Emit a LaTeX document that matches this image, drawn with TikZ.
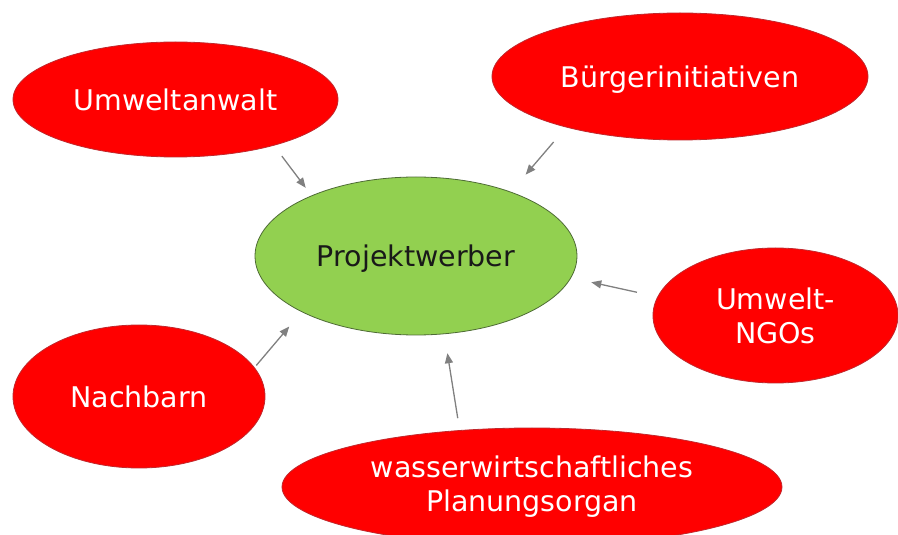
\documentclass[tikz,border=0pt]{standalone}
\usepackage{fontspec}
\setmainfont{DejaVu Sans}
\usetikzlibrary{shapes.geometric,positioning,arrows.meta}
\definecolor{partyred}{HTML}{FF0000}
\definecolor{partyline}{HTML}{C0282D}
\definecolor{projgreen}{HTML}{92D050}
\definecolor{projline}{HTML}{4E6B35}
\definecolor{arrowgray}{HTML}{808080}

\begin{document}
\begin{tikzpicture}[on grid,
    party/.style={ellipse, fill=partyred, draw=partyline, line width=0.8pt,
        inner sep=0pt, outer sep=0pt, text=white, align=center,
        font=\fontsize{28.5}{34}\selectfont},
    project/.style={party, fill=projgreen, draw=projline, text={black!90}},
    flat/.style={text depth=0pt},
    arr/.style={draw=arrowgray, line width=1.3pt, -{Triangle[length=10pt,width=8pt]}}]
                \useasboundingbox (-416pt,256pt) rectangle (482pt,-279pt);
                \node[project,flat,minimum width=322pt,minimum height=158pt] (Projekt) {Projektwerber};
                \node[party,minimum width=325pt,minimum height=115pt] (Anwalt) [above left=156.5pt and 240.5pt of Projekt] {Umweltanwalt};
                \node[party,flat,minimum width=376pt,minimum height=127pt] (Buerger) [above right=179.5pt and 264pt of Projekt] {Bürgerinitiativen};
                \node[party,minimum width=245pt,minimum height=135pt] (NGO) [below right=59.5pt and 359.5pt of Projekt] {Umwelt-\\NGOs};
                \node[party,minimum width=252pt,minimum height=143pt] (Nachbar) [below left=140.5pt and 277pt of Projekt] {Nachbarn};
                \node[party,minimum width=500pt,minimum height=118pt] (Wasser) [below right=231pt and 116pt of Projekt] {wasserwirtschaftliches\\Planungsorgan};
                \path
                (Anwalt.-25.3) edge[arr, shorten <=13.5pt, shorten >=10pt] (Projekt.150.3)
                (Buerger.204) edge[arr, shorten <=19.6pt, shorten >=23pt] (Projekt.34.9)
                (NGO.171.1) edge[arr, shorten <=21.3pt, shorten >=21pt] (Projekt.-8.5)
                (Nachbar.14.3) edge[arr, shorten <=3pt, shorten >=19.4pt] (Projekt.206.4)
                (Wasser.142.5) edge[arr, shorten <=12.5pt, shorten >=19.7pt] (Projekt.-70.4);
            \end{tikzpicture}
\end{document}
